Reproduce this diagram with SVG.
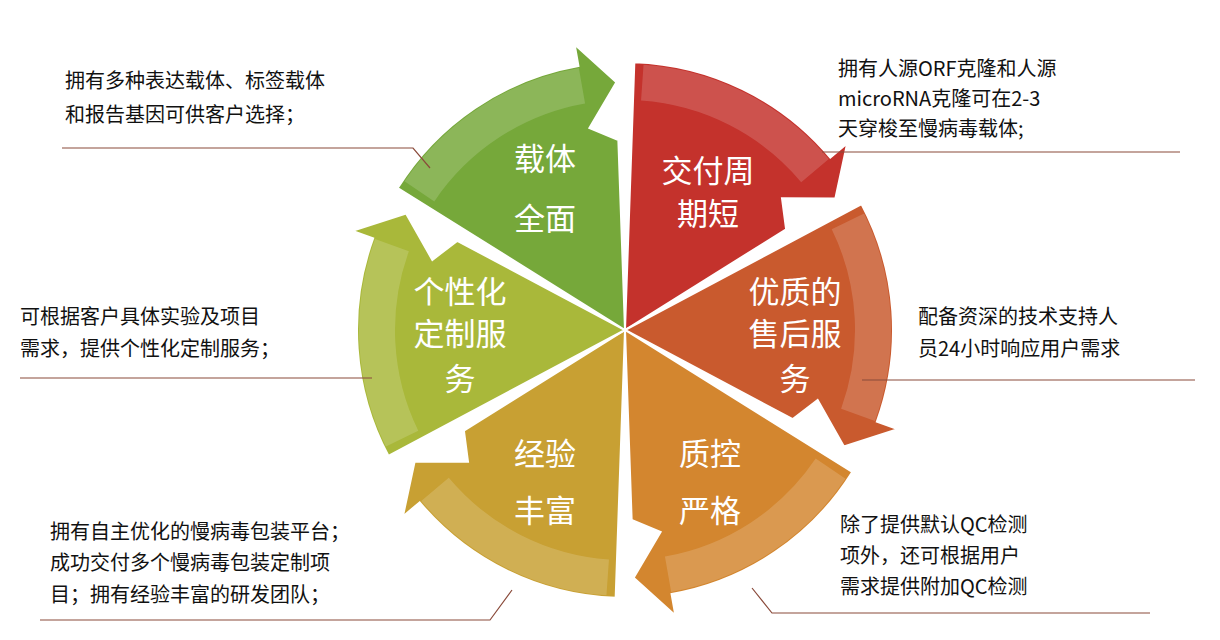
<svg xmlns="http://www.w3.org/2000/svg" width="1220" height="640" viewBox="0 0 1220 640">
<defs>
<path id="wedge" d="M625,330 L634.35,62.2 A268,268 0 0 1 830.3,157.7 L847.1,143.6 L835.3,198.6 L782,198.2 L786.1,229.3 Z"/>
<path id="band" d="M642.3,82.6 A248,248 0 0 1 815,170.6"/>
</defs>
<style>
.w{stroke:#fff;stroke-width:2}
.hl{fill:none;stroke:#fff;stroke-opacity:0.16;stroke-width:36}
.t{font-family:"Noto Sans CJK SC","Liberation Sans",sans-serif;font-size:31px;fill:#fff;text-anchor:middle}
.c{font-family:"Noto Sans CJK SC","Liberation Sans",sans-serif;font-size:20px;fill:#111}
.l{fill:none;stroke:#8a4a3a;stroke-width:1.2}
</style>
<rect width="1220" height="640" fill="#fff"/>
<g id="n1"><use href="#wedge" class="w" fill="#c4322c"/><use href="#band" class="hl"/><text class="t" x="708" y="182">交付周</text><text class="t" x="708" y="225">期短</text></g>
<g id="n2"><g transform="rotate(60 625 330)"><use href="#wedge" class="w" fill="#c95a2e"/><use href="#band" class="hl"/></g><text class="t" x="795" y="303">优质的</text><text class="t" x="795" y="345">售后服</text><text class="t" x="795" y="390">务</text></g>
<g id="n3"><g transform="rotate(120 625 330)"><use href="#wedge" class="w" fill="#d3862f"/><use href="#band" class="hl"/></g><text class="t" x="710" y="465">质控</text><text class="t" x="710" y="522">严格</text></g>
<g id="n4"><g transform="rotate(180 625 330)"><use href="#wedge" class="w" fill="#c8a033"/><use href="#band" class="hl"/></g><text class="t" x="545" y="465">经验</text><text class="t" x="545" y="522">丰富</text></g>
<g id="n5"><g transform="rotate(240 625 330)"><use href="#wedge" class="w" fill="#a9b83a"/><use href="#band" class="hl"/></g><text class="t" x="460" y="303">个性化</text><text class="t" x="460" y="345">定制服</text><text class="t" x="460" y="390">务</text></g>
<g id="n6"><g transform="rotate(300 625 330)"><use href="#wedge" class="w" fill="#76a83a"/><use href="#band" class="hl"/></g><text class="t" x="545" y="170">载体</text><text class="t" x="545" y="230">全面</text></g>
<g id="connectors">
<path class="l" d="M62,148 H413 L430,168"/>
<path class="l" d="M822,152 H1180"/>
<path class="l" d="M862,380 H1195"/>
<path class="l" d="M752,588 L772,613 H1150"/>
<path class="l" d="M20,378 H372"/>
<path class="l" d="M40,620 H490 L512,590"/>
</g>
<g id="labels">
<text class="c" x="65" y="88">拥有多种表达载体、标签载体</text>
<text class="c" x="65" y="122">和报告基因可供客户选择；</text>
<text class="c" x="838" y="76">拥有人源ORF克隆和人源</text>
<text class="c" x="838" y="106">microRNA克隆可在2-3</text>
<text class="c" x="838" y="136">天穿梭至慢病毒载体;</text>
<text class="c" x="918" y="324">配备资深的技术支持人</text>
<text class="c" x="918" y="356">员24小时响应用户需求</text>
<text class="c" x="840" y="532">除了提供默认QC检测</text>
<text class="c" x="840" y="563">项外，还可根据用户</text>
<text class="c" x="840" y="594">需求提供附加QC检测</text>
<text class="c" x="20" y="324">可根据客户具体实验及项目</text>
<text class="c" x="20" y="356">需求，提供个性化定制服务；</text>
<text class="c" x="50" y="539">拥有自主优化的慢病毒包装平台；</text>
<text class="c" x="50" y="570">成功交付多个慢病毒包装定制项</text>
<text class="c" x="50" y="602">目；拥有经验丰富的研发团队；</text>
</g>
</svg>
